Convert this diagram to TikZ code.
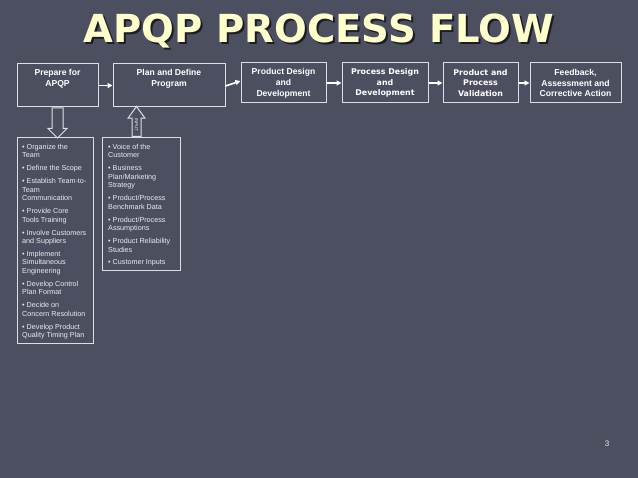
\documentclass[tikz,border=0pt]{standalone}
\usepackage{fontspec}
\setmainfont{Liberation Sans}
\newfontfamily\widefont{DejaVu Sans}
\usetikzlibrary{shapes.arrows,calc,arrows.meta}
\definecolor{slidebg}{RGB}{76,79,96}
\definecolor{titleyellow}{RGB}{255,255,204}
\definecolor{titleshade}{RGB}{28,28,38}
\definecolor{edgegrey}{RGB}{222,222,228}
\definecolor{listgrey}{RGB}{236,236,240}

\begin{document}
\begin{tikzpicture}
[x=1pt,y=-1pt,
stage/.style={draw=edgegrey,line width=1pt,text=white,inner sep=0pt,align=center,
font=\fontsize{8.6}{10.8}\selectfont\bfseries},
widestage/.style={stage,font=\widefont\fontsize{7.9}{10.8}\selectfont\bfseries},
stagetext/.style={text=white,inner sep=0pt,align=center,
font=\fontsize{8.6}{10.8}\selectfont\bfseries},
flow/.style={-{Triangle[length=5pt,width=5pt]},line width=1.6pt,white},
listbox/.style={draw=edgegrey,line width=1pt,inner sep=0pt},
listtext/.style={text=listgrey,inner sep=0pt,align=left,
font=\fontsize{7.2}{8.5}\selectfont},
blockarrow/.style={single arrow,draw=edgegrey,line width=1pt,inner sep=0pt,
minimum height=30,text height=5pt,text depth=5pt,single arrow head extend=4,
single arrow tip angle=90},
titletext/.style={inner sep=0pt,anchor=base,
font=\widefont\fontsize{38.6}{40}\selectfont\bfseries}]
\fill[slidebg] (0,0) rectangle (638,478);

\node[titletext,text=titleshade] (titleshadow) at (321,45) {APQP PROCESS FLOW};
\node[titletext,text=titleyellow] (title) at (319,43) {APQP PROCESS FLOW};

\node[stage,minimum width=81,minimum height=43] (prep) at (57.5,85.5) {};
\node[stagetext,anchor=north] (preptext) at ($(prep.north)+(0,5.5)$) {Prepare for\\APQP};
\node[stage,minimum width=112,minimum height=43] (plan) at (169,85.5) {};
\node[stagetext,anchor=north] (plantext) at ($(plan.north)+(0,5.5)$) {Plan and Define\\Program};
\node[stage,minimum width=85,minimum height=40] (product) at (283.5,83) {Product Design\\and\\Development};
\node[widestage,minimum width=86,minimum height=40] (process) at (385,83) {Process Design\\and\\Development};
\node[widestage,minimum width=75,minimum height=40] (valid) at (480.5,83) {Product and\\Process\\Validation};
\node[stage,minimum width=91,minimum height=40] (feedback) at (575.5,83) {Feedback,\\Assessment and\\Corrective Action};

\draw[flow] (prep.east) -- (plan.west);
\draw[flow] ($(plan.east)+(0,0.5)$) -- ($(product.west)+(0,-2)$);
\draw[flow] (product.east) -- (process.west);
\draw[flow] (process.east) -- (valid.west);
\draw[flow] (valid.east) -- (feedback.west);

\node[listbox,minimum width=76,minimum height=206,anchor=north west] (tasks) at (17,137) {};
\node[listtext,anchor=north west] (tasklist) at ($(tasks.north west)+(5,7)$) {%
\textbullet{} Organize the\\Team\\[4.4pt]
\textbullet{} Define the Scope\\[4.4pt]
\textbullet{} Establish Team-to-\\Team\\Communication\\[4.4pt]
\textbullet{} Provide Core\\Tools Training\\[4.4pt]
\textbullet{} Involve Customers\\and Suppliers\\[4.4pt]
\textbullet{} Implement\\Simultaneous\\Engineering\\[4.4pt]
\textbullet{} Develop Control\\Plan Format\\[4.4pt]
\textbullet{} Decide on\\Concern Resolution\\[4.4pt]
\textbullet{} Develop Product\\Quality Timing Plan};

\node[listbox,minimum width=78,minimum height=133,anchor=north west] (inputs) at (102,137) {};
\node[listtext,anchor=north west] (inputlist) at ($(inputs.north west)+(6,7)$) {%
\textbullet{} Voice of the\\Customer\\[4.4pt]
\textbullet{} Business\\Plan/Marketing\\Strategy\\[4.4pt]
\textbullet{} Product/Process\\Benchmark Data\\[4.4pt]
\textbullet{} Product/Process\\Assumptions\\[4.4pt]
\textbullet{} Product Reliability\\Studies\\[4.4pt]
\textbullet{} Customer Inputs};

\node[blockarrow,rotate=-90,anchor=tail] (down) at (prep.south) {};
\node[blockarrow,rotate=90,anchor=tail,text height=4pt,text depth=4pt,
single arrow tip angle=72] (up) at ($(inputs.north)+(-5,0)$) {};
\node[text=listgrey,rotate=-90,inner sep=0pt,font=\fontsize{4.5}{5}\selectfont]
(inputword) at ($(inputs.north)+(-5,-12)$) {INPUT};

\node[text=listgrey,font=\fontsize{8}{9}\selectfont] (pageno) at (607,444) {3};
\end{tikzpicture}
\end{document}
